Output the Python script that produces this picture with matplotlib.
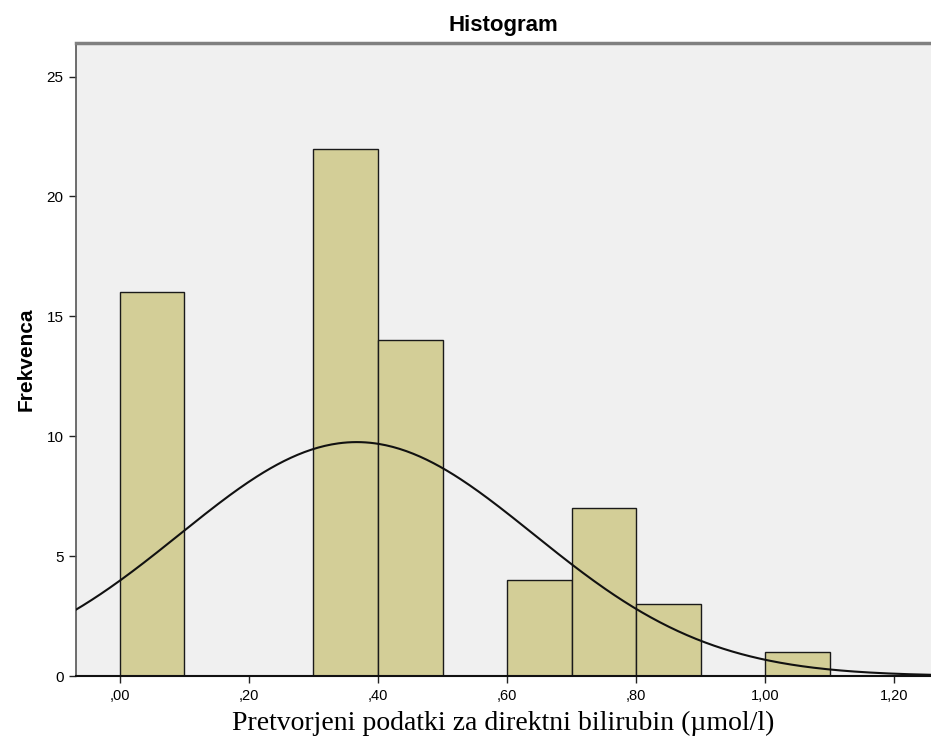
import numpy as np
import matplotlib
matplotlib.use("Agg")
import matplotlib.pyplot as plt

# Data
bin_left = [0.0, 0.3, 0.4, 0.6, 0.7, 0.8, 1.0]
counts = [16, 22, 14, 4, 7, 3, 1]
bin_width = 0.1
# Normal curve parameters (SPSS overlay)
mean_val = 0.367
std_val = 0.274
n_total = 67

x_ticks = [0.0, 0.2, 0.4, 0.6, 0.8, 1.0, 1.2]
x_ticklabels = [",00", ",20", ",40", ",60", ",80", "1,00", "1,20"]
y_ticks = [0, 5, 10, 15, 20, 25]

fig = plt.figure(figsize=(9.31, 7.44), dpi=100)
ax = fig.add_axes([76/931, 1-676/744, 1-76/931, (676-43)/744])
ax.set_facecolor("#F0F0F0")

ax.bar(bin_left, counts, width=bin_width, align="edge",
       color="#D3CE97", edgecolor="#1a1a1a", linewidth=1.0, zorder=2)

xs = np.linspace(-0.1, 1.3, 400)
ys = n_total * bin_width / (std_val * np.sqrt(2*np.pi)) * np.exp(-0.5*((xs-mean_val)/std_val)**2)
ax.plot(xs, ys, color="#111111", linewidth=1.5, zorder=3)

ax.set_xlim(-0.068, 1.257)
ax.set_ylim(0, 26.4)
ax.set_xticks(x_ticks)
ax.set_xticklabels(x_ticklabels, fontsize=10.5, family="Liberation Sans")
ax.set_yticks(y_ticks)
ax.set_yticklabels([str(v) for v in y_ticks], fontsize=11, family="Liberation Sans")
ax.tick_params(axis="both", direction="out", length=5, width=1, color="#222222", pad=4)

ax.spines["right"].set_visible(False)
ax.spines["top"].set_color("#808080")
ax.spines["top"].set_linewidth(2.5)
ax.spines["left"].set_color("#555555")
ax.spines["left"].set_linewidth(1.2)
ax.spines["bottom"].set_color("#111111")
ax.spines["bottom"].set_linewidth(1.5)

ax.set_title("Histogram", fontsize=16, fontweight="bold", family="Liberation Sans", pad=9)
ax.set_ylabel("Frekvenca", fontsize=15, fontweight="bold", family="Liberation Sans", labelpad=8)
ax.set_xlabel("Pretvorjeni podatki za direktni bilirubin (µmol/l)", fontsize=20,
              family="Liberation Serif", labelpad=6)

fig.savefig("out.png", dpi=100)
